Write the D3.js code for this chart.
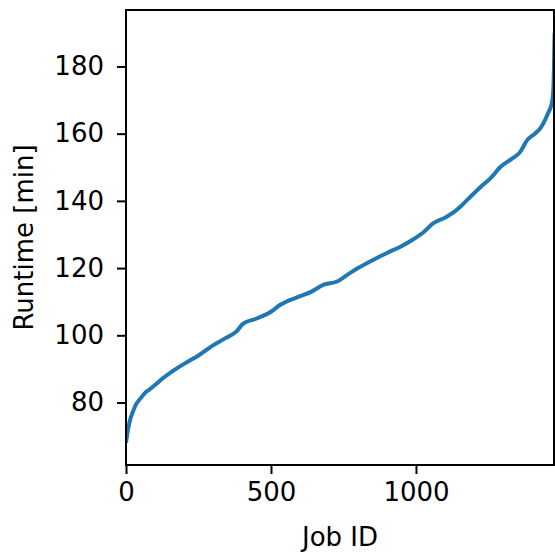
<!DOCTYPE html>
<html>
<head>
<meta charset="utf-8">
<script src="https://cdn.jsdelivr.net/npm/d3@7"></script>
<style>
  body { margin: 0; background: #fff; }
  svg text { font-family: "DejaVu Sans", sans-serif; fill: #000; }
</style>
</head>
<body>
<div id="chart"></div>
<script>
// Sorted job runtimes
const jobIds = [0, 5, 14, 25, 35, 48, 65, 83, 100, 128, 160, 210, 250, 300, 340, 383, 403, 451,
  500, 531, 590, 640, 680, 728, 772, 800, 865, 900, 945, 990, 1024, 1059, 1100, 1128, 1152,
  1179, 1221, 1260, 1290, 1330, 1359, 1383, 1410, 1428, 1445, 1455, 1465, 1472, 1476, 1478];
const runtimes = [68, 71, 74.8, 77.5, 79.5, 81, 82.8, 84, 85.2, 87.3, 89.3, 92, 94, 97, 99, 101.3, 103.4, 105,
  107, 109, 111.3, 113, 115, 116, 118.5, 120, 123, 124.5, 126.3, 128.5, 130.5, 133.3, 135, 136.5, 138.2,
  140.5, 144, 147, 150, 152.5, 154.5, 158, 160, 161.5, 164, 166, 168, 171, 180, 190];
const xTicks = [0, 500, 1000];
const yTicks = [80, 100, 120, 140, 160, 180];

const W = 555, H = 553;
const margin = { top: 10, right: 1, bottom: 88, left: 126 };
const width = W - margin.left - margin.right,
      height = H - margin.top - margin.bottom;

const svg = d3.select("#chart").append("svg")
    .attr("width", W)
    .attr("height", H);

const g = svg.append("g")
    .attr("transform", `translate(${margin.left},${margin.top})`);

const x = d3.scaleLinear().domain([0, 1476]).range([0, width]);
const y = d3.scaleLinear().domain([61.4, 196.8]).range([height, 0]);

g.append("clipPath").attr("id", "clip")
  .append("rect").attr("width", width).attr("height", height);

const data = jobIds.map((id, i) => ({ id: id, v: runtimes[i] }));

g.append("path")
    .datum(data)
    .attr("clip-path", "url(#clip)")
    .attr("fill", "none")
    .attr("stroke", "#1f77b4")
    .attr("stroke-width", 4)
    .attr("stroke-linejoin", "round")
    .attr("d", d3.line().curve(d3.curveMonotoneX).x(d => x(d.id)).y(d => y(d.v)));

// Axes
const xAxis = g.append("g")
    .attr("transform", `translate(0,${height})`)
    .call(d3.axisBottom(x).tickValues(xTicks).tickFormat(d3.format("d"))
      .tickSize(9).tickPadding(9).tickSizeOuter(0));
const yAxis = g.append("g")
    .call(d3.axisLeft(y).tickValues(yTicks).tickFormat(d3.format("d"))
      .tickSize(9).tickPadding(13).tickSizeOuter(0));

[xAxis, yAxis].forEach(a => {
  a.select(".domain").remove();
  a.selectAll("line").attr("stroke", "#000").attr("stroke-width", 2);
  a.selectAll("text").style("font-size", "26px").style("font-family", "DejaVu Sans");
});

// Spines
g.append("rect")
    .attr("width", width)
    .attr("height", height)
    .attr("fill", "none")
    .attr("stroke", "#000")
    .attr("stroke-width", 2);

// Axis labels
g.append("text")
    .attr("x", width / 2)
    .attr("y", height + 81)
    .attr("text-anchor", "middle")
    .style("font-size", "26px")
    .text("Job ID");

g.append("text")
    .attr("transform", `translate(${-93},${height / 2}) rotate(-90)`)
    .attr("text-anchor", "middle")
    .style("font-size", "26px")
    .text("Runtime [min]");
</script>
</body>
</html>
